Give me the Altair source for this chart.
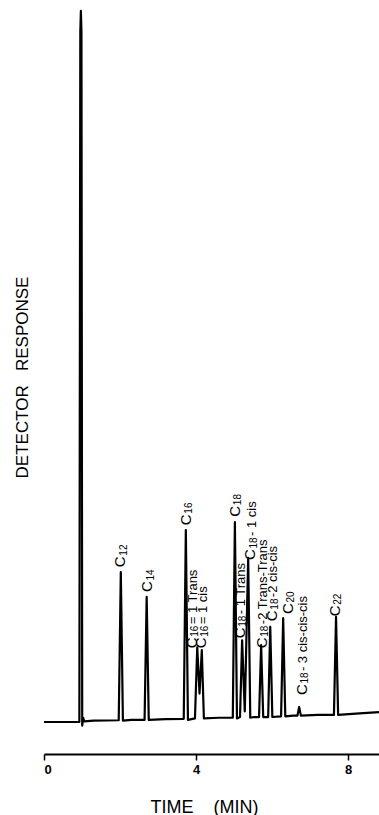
import altair as alt
import pandas as pd

# Chromatogram trace (time in min, detector response in arbitrary units)
trace_time = [0.0, 0.93, 0.955, 0.97, 0.985, 1.005, 1.03, 1.06, 1.3,
              1.965, 2.02, 2.075, 2.3,
              2.645, 2.70, 2.755, 3.2,
              3.675, 3.73, 3.785, 3.97, 4.03, 4.09, 4.15, 4.205, 4.6,
              4.965, 5.02, 5.075, 5.155, 5.21, 5.28, 5.37, 5.425, 5.52,
              5.655, 5.71, 5.765, 5.895, 5.95, 6.005,
              6.235, 6.29, 6.345, 6.55, 6.665, 6.71, 6.755, 7.2,
              7.625, 7.68, 7.735, 8.3, 8.81]
trace_resp = [0.0, 0.0, 97.0, 100.0, 97.0, -0.5, 0.6, 0.1, 0.2,
              0.25, 21.1, 0.2, 0.3,
              0.3, 17.6, 0.3, 0.4,
              0.45, 27.0, 0.3, 0.5, 10.5, 4.0, 10.1, 0.5, 0.6,
              0.6, 28.1, 0.5, 0.7, 11.5, 1.5, 23.1, 0.6, 0.7,
              0.7, 10.8, 0.7, 0.7, 13.4, 0.7,
              0.8, 14.6, 0.8, 0.9, 0.9, 2.1, 0.9, 1.0,
              1.0, 14.8, 1.0, 1.2, 1.4]

# Peak labels: element, carbon-number subscript, suffix
label_main = ["C"] * 13
label_sub = ["12", "14", "16", "16", "16", "18", "18", "18", "18", "18",
             "20", "18", "22"]
label_suffix = ["", "", "", "= 1 Trans", "= 1 cis", "", "- 1 Trans",
                "- 1 cis", "-2 Trans-Trans", "-2 cis-cis", "",
                "- 3 cis-cis-cis", ""]
label_time = [2.00, 2.71, 3.73, 3.89, 4.13, 5.02,
              5.15, 5.42, 5.73, 5.99, 6.41, 6.78, 7.65]
label_resp = [21.5, 18.0, 27.4, 10.1, 10.1, 28.6,
              11.5, 22.5, 10.1, 13.9, 14.9, 3.5, 14.6]

x_ticks = [0, 4, 8]

trace = pd.DataFrame({"time": trace_time, "resp": trace_resp})
labels = pd.DataFrame({"main": label_main, "sub": label_sub,
                       "suffix": label_suffix,
                       "time": label_time, "resp": label_resp})

FONT = "Liberation Sans"
NB = "\u00a0"

xscale = alt.Scale(domain=[0, 8.81], nice=False, zero=False)
yscale = alt.Scale(domain=[-4.5, 100.84], nice=False, zero=False)

xaxis = alt.Axis(
    values=x_ticks, format="d", grid=False,
    domainColor="black", domainWidth=2, tickColor="black", tickWidth=1.5,
    tickSize=6, labelFont=FONT, labelFontSize=13, labelFontWeight="bold",
    labelColor="black", labelPadding=3,
    title="TIME" + NB * 4 + "(MIN)", titleFont=FONT, titleFontSize=18,
    titleFontWeight="normal", titleColor="black",
    titleX=160, titleY=53, titleAlign="center", titleBaseline="middle",
)
yaxis = alt.Axis(
    domain=False, ticks=False, labels=False, grid=False,
    title="DETECTOR" + NB * 3 + "RESPONSE", titleFont=FONT, titleFontSize=17,
    titleFontWeight="normal", titleColor="black",
    titleAngle=270, titleX=-22, titleY=372,
    titleAlign="center", titleBaseline="middle",
)

line = alt.Chart(trace).mark_line(
    color="black", strokeWidth=2.2, strokeJoin="round", clip=True
).encode(
    x=alt.X("time:Q", scale=xscale, axis=xaxis),
    y=alt.Y("resp:Q", scale=yscale, axis=yaxis),
)

enc = dict(x=alt.X("time:Q", scale=xscale), y=alt.Y("resp:Q", scale=yscale))

t_main = alt.Chart(labels).mark_text(
    angle=270, align="left", baseline="middle", font=FONT, fontSize=15,
    color="black", dx=2
).encode(text="main:N", **enc)

t_sub = alt.Chart(labels).mark_text(
    angle=270, align="left", baseline="middle", font=FONT, fontSize=10,
    color="black", dx=13.5, dy=3.5
).encode(text="sub:N", **enc)

t_suffix = alt.Chart(labels).mark_text(
    angle=270, align="left", baseline="middle", font=FONT, fontSize=13,
    color="black", dx=26, dy=1.5
).encode(text="suffix:N", **enc)

chart = alt.layer(line, t_main, t_sub, t_suffix).properties(
    width=335, height=749,
    autosize=alt.AutoSizeParams(type="none"),
    padding={"left": 44, "top": 5, "right": 0, "bottom": 61},
    background="white",
).configure_view(stroke=None)

chart.save("out.html", embed_options={"renderer": "svg", "actions": False})
